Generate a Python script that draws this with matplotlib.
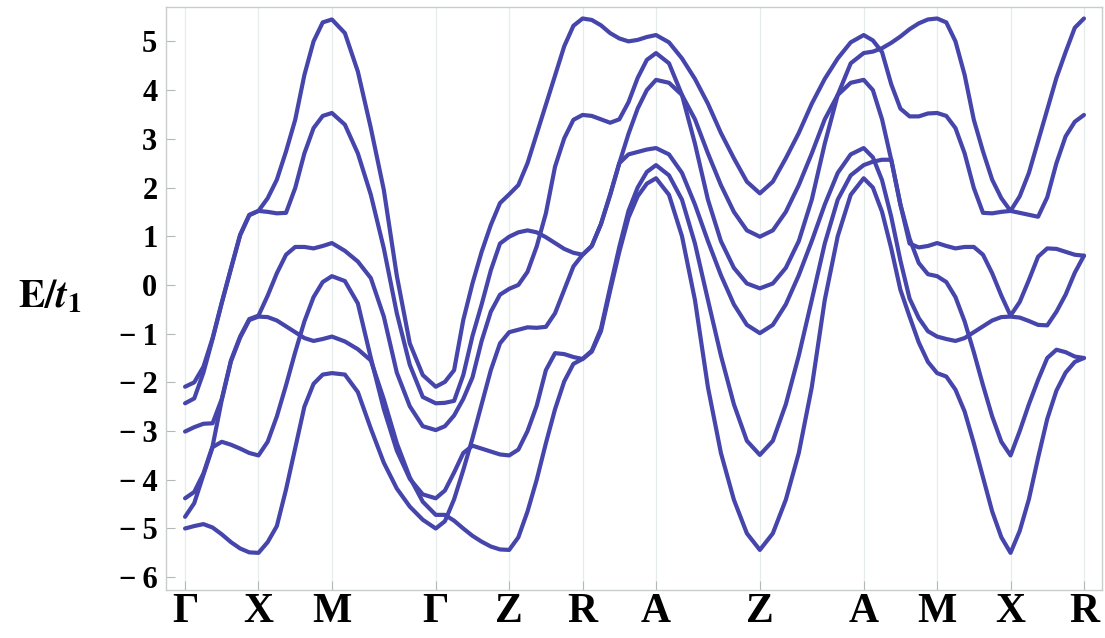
import numpy as np
import matplotlib.pyplot as plt

plt.rcParams['mathtext.fontset'] = 'stix'

# high-symmetry path and segment lengths (in units of pi/a)
point_labels = ['Γ', 'X', 'M', 'Γ', 'Z', 'R', 'A', 'Z', 'A', 'M', 'X', 'R']
seg_len = [1, 1, np.sqrt(2), 1, 1, 1, np.sqrt(2), np.sqrt(2), 1, 1, 1]
n_sub = 8  # samples read per segment

# E/t1, 8 steps per segment (segment starts marked)
band1 = [-5.00, -4.95, -4.91, -4.98, -5.12, -5.28, -5.41, -5.49,   # G-X
         -5.50, -5.28, -4.95, -4.20, -3.35, -2.50, -2.03, -1.84,   # X-M
         -1.81, -1.84, -2.20, -2.95, -3.65, -4.18, -4.55, -4.82,   # M-G
         -5.00, -4.85, -4.40, -3.80, -3.15, -2.45, -1.75, -1.20,   # G-Z
         -0.97, -0.92, -0.87, -0.88, -0.86, -0.58, -0.10, 0.38,    # Z-R
         0.62, 0.80, 1.25, 1.85, 2.50, 2.68, 2.73, 2.78,           # R-A
         2.81, 2.68, 2.30, 1.65, 0.90, 0.20, -0.40, -0.82,         # A-Z
         -0.99, -0.82, -0.40, 0.20, 0.90, 1.65, 2.30, 2.68,        # Z-A
         2.81, 2.62, 2.15, 1.40, 0.50, -0.28, -0.68, -0.95,        # A-M
         -1.06, -1.11, -1.15, -1.09, -0.97, -0.85, -0.73, -0.66,   # M-X
         -0.65, -0.67, -0.74, -0.82, -0.83, -0.55, -0.20, 0.25,    # X-R
         0.60]
band2 = [-4.76, -4.48, -3.90, -3.33, -3.22, -3.28, -3.36, -3.45,
         -3.50, -3.22, -2.70, -2.06, -1.38, -0.75, -0.25, 0.06,
         0.18, 0.08, -0.38, -1.50, -2.55, -3.40, -3.98, -4.30,
         -4.38, -4.22, -3.85, -3.45, -3.30, -3.36, -3.42, -3.48,
         -3.50, -3.38, -3.00, -2.48, -1.75, -1.40, -1.42, -1.48,
         -1.52, -1.35, -0.90, -0.05, 0.78, 1.52, 2.00, 2.32,
         2.46, 2.25, 1.75, 0.85, -0.31, -1.45, -2.45, -3.20,
         -3.49, -3.20, -2.45, -1.45, -0.31, 0.85, 1.75, 2.25,
         2.46, 2.53, 2.57, 2.57, 1.65, 0.95, 0.45, 0.22,
         0.18, 0.06, -0.25, -0.75, -1.38, -2.06, -2.70, -3.22,
         -3.50, -3.00, -2.45, -1.95, -1.50, -1.33, -1.38, -1.47,
         -1.50]
band3 = [-4.38, -4.25, -3.87, -3.31, -2.36, -1.57, -1.08, -0.72,
         -0.65, -0.66, -0.73, -0.85, -0.97, -1.09, -1.15, -1.11,
         -1.06, -1.16, -1.32, -1.55, -2.35, -3.25, -3.95, -4.45,
         -4.72, -4.72, -4.84, -5.00, -5.15, -5.27, -5.37, -5.43,
         -5.44, -5.18, -4.65, -4.00, -3.25, -2.55, -1.98, -1.62,
         -1.52, -1.37, -0.95, -0.12, 0.68, 1.38, 1.82, 2.08,
         2.19, 1.85, 1.00, -0.31, -2.10, -3.45, -4.41, -5.10,
         -5.44, -5.10, -4.41, -3.45, -2.10, -0.31, 1.00, 1.85,
         2.19, 2.00, 1.50, 0.75, -0.10, -0.65, -1.18, -1.58,
         -1.81, -1.88, -2.15, -2.60, -3.25, -3.95, -4.65, -5.18,
         -5.50, -5.05, -4.40, -3.55, -2.75, -2.17, -1.80, -1.58,
         -1.50]
band4 = [-3.01, -2.92, -2.85, -2.84, -2.34, -1.55, -1.06, -0.70,
         -0.63, -0.22, 0.24, 0.62, 0.78, 0.78, 0.75, 0.80,
         0.86, 0.70, 0.48, 0.14, -0.65, -1.80, -2.49, -2.90,
         -2.98, -2.90, -2.68, -2.34, -1.90, -1.15, -0.55, -0.20,
         -0.08, 0.00, 0.27, 0.79, 1.47, 2.43, 3.01, 3.39,
         3.49, 3.47, 3.40, 3.33, 3.40, 3.75, 4.25, 4.62,
         4.76, 4.55, 3.90, 2.90, 1.75, 0.90, 0.35, 0.03,
         -0.07, 0.03, 0.35, 0.90, 1.75, 2.90, 3.90, 4.55,
         4.76, 4.79, 4.86, 4.97, 5.10, 5.25, 5.37, 5.45,
         5.47, 5.39, 5.00, 4.31, 3.39, 2.74, 2.16, 1.78,
         1.52, 1.82, 2.30, 2.95, 3.60, 4.25, 4.78, 5.28,
         5.47]
band5 = [-2.43, -2.33, -1.80, -1.11, -0.37, 0.33, 1.02, 1.43,
         1.52, 1.50, 1.47, 1.48, 1.99, 2.70, 3.22, 3.47,
         3.53, 3.29, 2.70, 1.85, 0.75, -0.58, -1.64, -2.30,
         -2.43, -2.42, -2.38, -1.85, -1.05, -0.40, 0.30, 0.85,
         0.99, 1.08, 1.12, 1.08, 0.98, 0.86, 0.74, 0.66,
         0.62, 0.80, 1.25, 1.85, 2.50, 3.10, 3.62, 4.00,
         4.21, 4.15, 3.90, 3.40, 2.70, 2.05, 1.50, 1.12,
         0.99, 1.12, 1.50, 2.05, 2.70, 3.40, 3.90, 4.15,
         4.21, 4.00, 3.40, 2.57, 1.65, 0.85, 0.77, 0.80,
         0.86, 0.80, 0.75, 0.78, 0.78, 0.62, 0.24, -0.22,
         -0.63, -0.35, 0.10, 0.58, 0.75, 0.74, 0.68, 0.62,
         0.60]
band6 = [-2.09, -2.00, -1.68, -1.09, -0.36, 0.34, 1.03, 1.44,
         1.52, 1.78, 2.16, 2.74, 3.39, 4.31, 5.00, 5.39,
         5.45, 5.17, 4.38, 3.22, 1.95, 0.19, -1.20, -1.85,
         -2.09, -1.99, -1.75, -0.72, 0.03, 0.68, 1.23, 1.68,
         1.86, 2.05, 2.50, 3.10, 3.70, 4.30, 4.90, 5.32,
         5.47, 5.44, 5.33, 5.17, 5.06, 5.00, 5.03, 5.09,
         5.13, 4.98, 4.65, 4.23, 3.72, 3.12, 2.60, 2.12,
         1.88, 2.12, 2.60, 3.12, 3.72, 4.23, 4.65, 4.98,
         5.13, 5.02, 4.78, 4.12, 3.62, 3.46, 3.46, 3.52,
         3.53, 3.47, 3.22, 2.70, 1.99, 1.48, 1.47, 1.50,
         1.52, 1.48, 1.44, 1.40, 1.80, 2.50, 3.05, 3.35,
         3.49]
bands = [band1, band2, band3, band4, band5, band6]

# k positions of the samples along the path
nodes = np.concatenate([[0], np.cumsum(seg_len)])
k = [0.0]
for i, L in enumerate(seg_len):
    k.extend(nodes[i] + L * np.arange(1, n_sub + 1) / n_sub)
k = np.array(k)

fig = plt.figure(figsize=(11.05, 6.38), dpi=100)
ax = fig.add_axes([0.150, 0.0752, 0.847, 0.914])

for x in nodes:
    ax.axvline(x, color='#e4ecec', lw=0.9, zorder=0)
for b in bands:
    ax.plot(k, b, color='#4545ab', lw=3.0, solid_joinstyle='round',
            solid_capstyle='round')

ax.set_xlim(-0.263, 12.484)
ax.set_ylim(-6.263, 5.708)

serif = ['Liberation Serif', 'DejaVu Serif']
ax.set_xticks(nodes)
ax.set_xticklabels(point_labels, family=serif, fontweight='bold', fontsize=30)
yt = list(range(-6, 6))
ax.set_yticks(yt)
ax.set_yticklabels([('\u2212\u2009%d' % -v) if v < 0 else '%d' % v for v in yt],
                   family=serif, fontweight='bold', fontsize=22)
ax.tick_params(axis='both', direction='in', length=6.5, width=0.8,
               color='#b4b8b8')
ax.tick_params(axis='y', pad=6)
ax.tick_params(axis='x', pad=2)
for s in ax.spines.values():
    s.set_color('#c8cccc')
    s.set_linewidth(1.0)

fig.text(0.0163, 1 - 308 / 638, r'$\mathbf{E/}\boldsymbol{t}_{\mathbf{1}}$',
         fontsize=28.5, ha='left', va='baseline')

fig.savefig('out.png', dpi=100)
